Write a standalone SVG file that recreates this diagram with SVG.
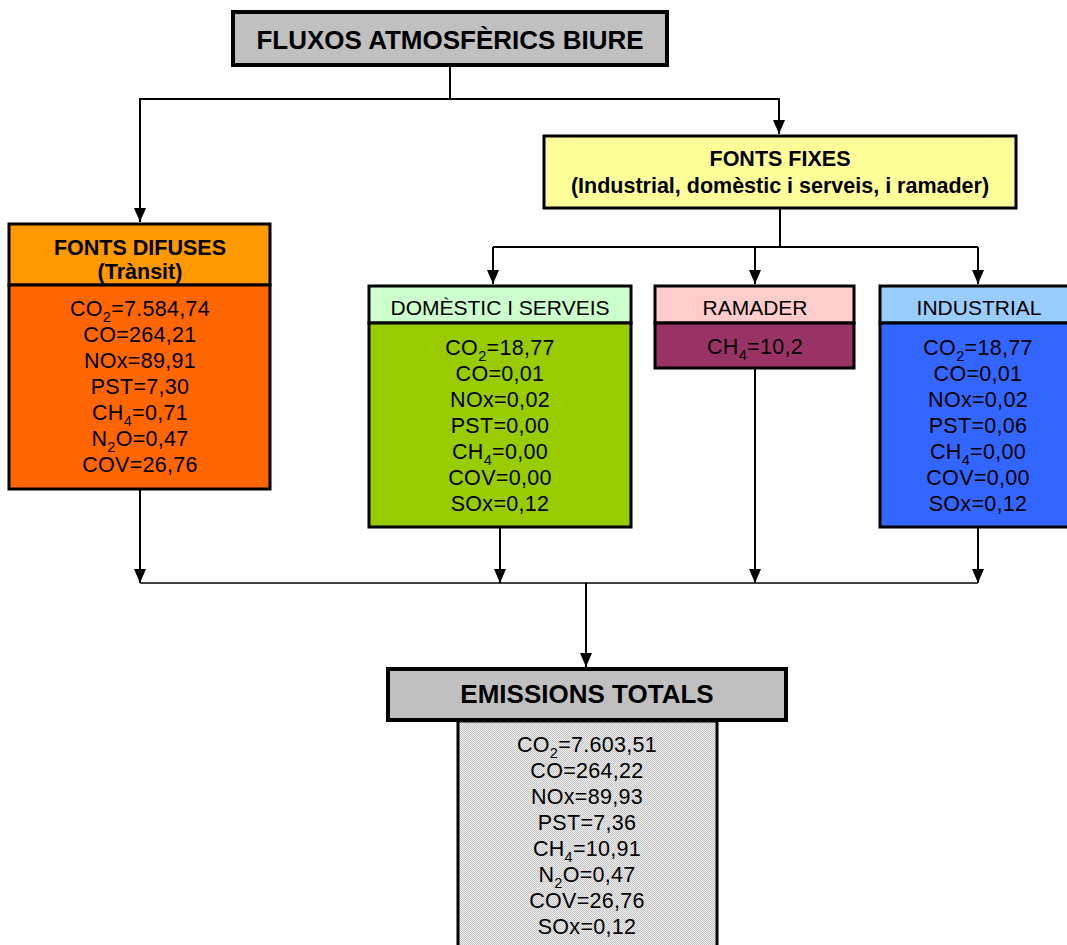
<svg xmlns="http://www.w3.org/2000/svg" width="1067" height="945" viewBox="0 0 1067 945">
  <style>
    text { font-family: "Liberation Sans", Arial, Helvetica, sans-serif; fill: #000; text-anchor: middle; }
    .title { font-size: 26px; font-weight: bold; }
    .hb { font-size: 21.5px; font-weight: bold; }
    .hr { font-size: 21px; }
    .v { font-size: 21.5px; letter-spacing: 0.3px; }
    .sub { font-size: 14.5px; }
    .box { stroke: #000; stroke-width: 3; }
    .thick { stroke: #000; stroke-width: 4; }
    .conn { fill: none; stroke: #000; stroke-width: 2; }
    .bus { fill: none; stroke: #000; stroke-width: 1.6; }
  </style>
  <defs>
    <marker id="arr" viewBox="0 0 14 12" refX="14" refY="6" markerWidth="14" markerHeight="12" markerUnits="userSpaceOnUse" orient="auto">
      <path d="M0,0 L14,6 L0,12 Z" fill="#000"/>
    </marker>
    <pattern id="dots" width="2" height="2" patternUnits="userSpaceOnUse">
      <rect width="2" height="2" fill="#eeeeee"/>
      <rect width="1" height="1" fill="#c4c4c4"/>
      <rect x="1" y="1" width="1" height="1" fill="#c4c4c4"/>
    </pattern>
  </defs>

  <g id="connectors">
    <path class="conn" d="M450,66 V99 H140 V222" marker-end="url(#arr)"/>
    <path class="conn" d="M450,99 H779 V134" marker-end="url(#arr)"/>
    <path class="conn" d="M780,208 V247"/>
    <path class="conn" d="M493,247 H978"/>
    <path class="conn" d="M493,247 V284" marker-end="url(#arr)"/>
    <path class="conn" d="M755,247 V284" marker-end="url(#arr)"/>
    <path class="conn" d="M978,247 V284" marker-end="url(#arr)"/>
    <path class="conn" d="M140,489 V583" marker-end="url(#arr)"/>
    <path class="conn" d="M500,528 V583" marker-end="url(#arr)"/>
    <path class="conn" d="M755,369 V583" marker-end="url(#arr)"/>
    <path class="conn" d="M978,528 V583" marker-end="url(#arr)"/>
    <path class="bus" d="M140,583 H978"/>
    <path class="conn" d="M586,583 V667" marker-end="url(#arr)"/>
  </g>

  <g id="title">
    <rect class="thick" x="233" y="12" width="434" height="53" fill="#c0c0c0"/>
    <text class="title" x="450" y="49">FLUXOS ATMOSFÈRICS BIURE</text>
  </g>

  <g id="fonts-fixes">
    <rect class="box" x="544" y="136" width="472" height="72" fill="#ffff99"/>
    <text class="hb" x="780" y="166">FONTS FIXES</text>
    <text class="hb" x="780" y="193">(Industrial, domèstic i serveis, i ramader)</text>
  </g>

  <g id="fonts-difuses">
    <rect class="box" x="9" y="224" width="261" height="61" fill="#ff9900"/>
    <rect class="box" x="9" y="285" width="261" height="204" fill="#ff6600"/>
    <text class="hb" x="140" y="255">FONTS DIFUSES</text>
    <text class="hb" x="140" y="279">(Trànsit)</text>
    <text class="v" x="140" y="316">CO<tspan class="sub" dy="6">2</tspan><tspan dy="-6">=7.584,74</tspan></text>
    <text class="v" x="140" y="342">CO=264,21</text>
    <text class="v" x="140" y="368">NOx=89,91</text>
    <text class="v" x="140" y="394">PST=7,30</text>
    <text class="v" x="140" y="420">CH<tspan class="sub" dy="6">4</tspan><tspan dy="-6">=0,71</tspan></text>
    <text class="v" x="140" y="446">N<tspan class="sub" dy="6">2</tspan><tspan dy="-6">O=0,47</tspan></text>
    <text class="v" x="140" y="472">COV=26,76</text>
  </g>

  <g id="domestic">
    <rect class="box" x="369" y="286" width="262" height="37" fill="#ccffcc"/>
    <rect class="box" x="369" y="323" width="262" height="204" fill="#99cc00"/>
    <text class="hr" x="500" y="315">DOMÈSTIC I SERVEIS</text>
    <text class="v" x="500" y="355">CO<tspan class="sub" dy="6">2</tspan><tspan dy="-6">=18,77</tspan></text>
    <text class="v" x="500" y="381">CO=0,01</text>
    <text class="v" x="500" y="407">NOx=0,02</text>
    <text class="v" x="500" y="433">PST=0,00</text>
    <text class="v" x="500" y="459">CH<tspan class="sub" dy="6">4</tspan><tspan dy="-6">=0,00</tspan></text>
    <text class="v" x="500" y="485">COV=0,00</text>
    <text class="v" x="500" y="511">SOx=0,12</text>
  </g>

  <g id="ramader">
    <rect class="box" x="655" y="286" width="199" height="37" fill="#ffcccc"/>
    <rect class="box" x="655" y="323" width="199" height="45" fill="#993366"/>
    <text class="hr" x="755" y="315">RAMADER</text>
    <text class="v" x="755" y="354">CH<tspan class="sub" dy="6">4</tspan><tspan dy="-6">=10,2</tspan></text>
  </g>

  <g id="industrial">
    <rect class="box" x="880" y="286" width="200" height="37" fill="#99ccff"/>
    <rect class="box" x="880" y="323" width="200" height="204" fill="#3366ff"/>
    <text class="hr" x="979" y="315">INDUSTRIAL</text>
    <text class="v" x="978" y="355">CO<tspan class="sub" dy="6">2</tspan><tspan dy="-6">=18,77</tspan></text>
    <text class="v" x="978" y="381">CO=0,01</text>
    <text class="v" x="978" y="407">NOx=0,02</text>
    <text class="v" x="978" y="433">PST=0,06</text>
    <text class="v" x="978" y="459">CH<tspan class="sub" dy="6">4</tspan><tspan dy="-6">=0,00</tspan></text>
    <text class="v" x="978" y="485">COV=0,00</text>
    <text class="v" x="978" y="511">SOx=0,12</text>
  </g>

  <g id="emissions-totals">
    <rect class="box" x="458" y="721" width="259" height="240" fill="url(#dots)"/>
    <rect class="thick" x="388" y="669" width="398" height="51" fill="#c0c0c0"/>
    <text class="title" x="587" y="703">EMISSIONS TOTALS</text>
    <text class="v" x="587" y="752">CO<tspan class="sub" dy="6">2</tspan><tspan dy="-6">=7.603,51</tspan></text>
    <text class="v" x="587" y="778">CO=264,22</text>
    <text class="v" x="587" y="804">NOx=89,93</text>
    <text class="v" x="587" y="830">PST=7,36</text>
    <text class="v" x="587" y="856">CH<tspan class="sub" dy="6">4</tspan><tspan dy="-6">=10,91</tspan></text>
    <text class="v" x="587" y="882">N<tspan class="sub" dy="6">2</tspan><tspan dy="-6">O=0,47</tspan></text>
    <text class="v" x="587" y="908">COV=26,76</text>
    <text class="v" x="587" y="934">SOx=0,12</text>
  </g>
</svg>
